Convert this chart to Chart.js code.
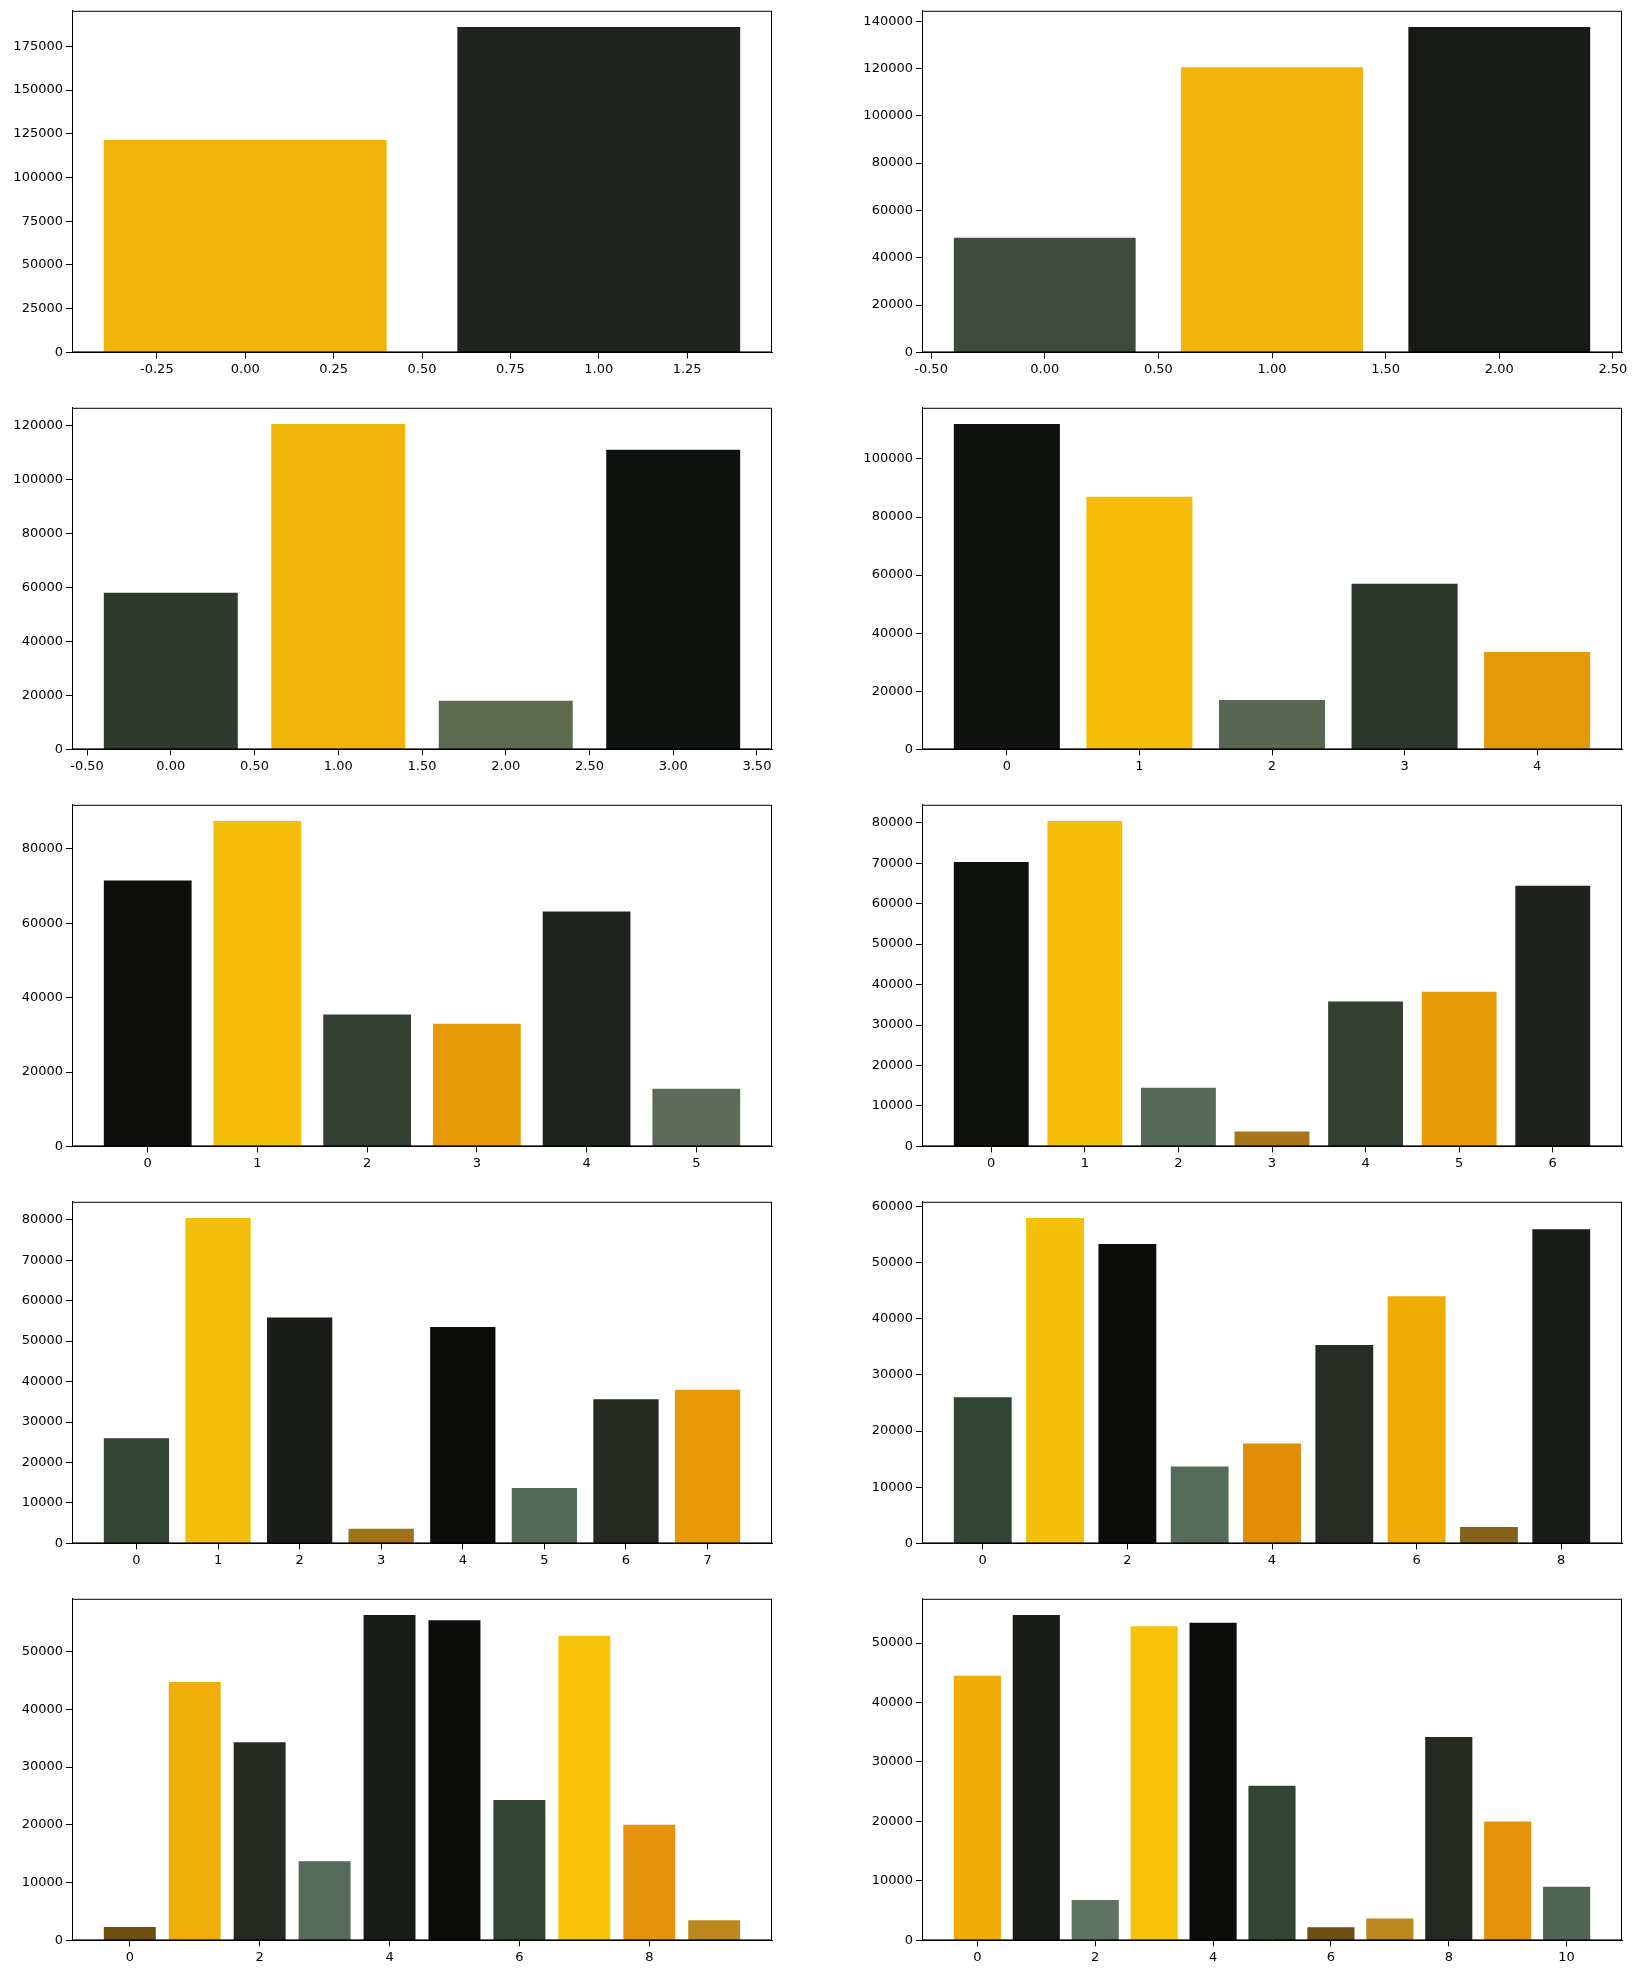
<!DOCTYPE html>
<html>
<head>
<meta charset="utf-8">
<script src="https://cdn.jsdelivr.net/npm/chart.js@4"></script>
<style>
  body { margin: 0; background: #fff; }
  #wrap { position: relative; width: 1634px; height: 1968px; }
  .box { position: absolute; width: 790px; height: 380px; }
</style>
</head>
<body>
<div id="wrap"></div>
<script>
// bar heights per panel
const values1 = [121500, 186000];
const values2 = [48500, 120500, 137500];
const values3 = [58000, 120500, 18000, 111000];
const values4 = [112000, 87000, 17000, 57000, 33500];
const values5 = [71500, 87500, 35500, 33000, 63200, 15500];
const values6 = [70300, 80400, 14500, 3700, 35800, 38200, 64400];
const values7 = [26000, 80400, 55800, 3600, 53500, 13700, 35600, 38000];
const values8 = [26000, 57900, 53300, 13700, 17800, 35300, 44000, 2900, 55900];
const values9 = [2300, 44700, 34300, 13700, 56300, 55400, 24300, 52700, 20000, 3500];
const values10 = [44500, 54700, 6800, 52800, 53400, 26000, 2200, 3700, 34200, 20000, 9000];

const colors1 = ['#f0b30a', '#20241e'];
const colors2 = ['#3e4c3c', '#f0b40a', '#171915'];
const colors3 = ['#2d3a2d', '#f0b40a', '#5c6a50', '#101410'];
const colors4 = ['#111311', '#f5bd0a', '#586852', '#2d362c', '#e4990a'];
const colors5 = ['#0e0f0d', '#f5bc0a', '#324032', '#e59a06', '#20241e', '#5c6a57'];
const colors6 = ['#0e100c', '#f5bd0a', '#56695c', '#a87418', '#324032', '#e89c06', '#20221d'];
const colors7 = ['#324434', '#f4bd0a', '#1a1c18', '#a27219', '#0c0d0b', '#556a5c', '#242a22', '#e89a06'];
const colors8 = ['#324434', '#f4c00a', '#0c0d0b', '#566b5c', '#e08d05', '#262c23', '#efab06', '#84621a', '#1a1c18'];
const colors9 = ['#6f4e12', '#f0ae0a', '#252b23', '#566b5c', '#171c17', '#0c0d0b', '#324434', '#f7c40a', '#e4930a', '#bc891e'];
const colors10 = ['#efab06', '#1a1c18', '#5f7364', '#f7c40a', '#0c0d0b', '#324434', '#6f4e12', '#bc891e', '#252b23', '#e4930a', '#4f6356'];

const xSteps = [0.25, 0.5, 0.5, 1, 1, 1, 1, 2, 2, 2];
const ySteps = [25000, 20000, 20000, 20000, 20000, 10000, 10000, 10000, 10000, 10000];

const panels = [
  [values1, colors1], [values2, colors2], [values3, colors3], [values4, colors4],
  [values5, colors5], [values6, colors6], [values7, colors7], [values8, colors8],
  [values9, colors9], [values10, colors10],
];

Chart.defaults.font.family = 'DejaVu Sans';
Chart.defaults.font.size = 13;
Chart.defaults.color = '#000';

function stepTicks(min, max, step) {
  const t = [];
  for (let v = Math.ceil(min / step - 1e-9) * step; v <= max + 1e-9; v += step) t.push({ value: +v.toFixed(4) });
  return t;
}

function axisOpts(min, max, step, fmt) {
  return {
    type: 'linear', min: min, max: max, offset: false,
    grid: { drawOnChartArea: false, drawTicks: true, tickLength: 6, color: '#000', offset: false },
    border: { display: true, color: '#000', width: 1 },
    ticks: { autoSkip: false, maxRotation: 0, callback: fmt },
    afterBuildTicks: ax => { ax.ticks = stepTicks(min, max, step); },
  };
}

const wrap = document.getElementById('wrap');
panels.forEach(([vals, cols], i) => {
  const col = i % 2, row = Math.floor(i / 2);
  const box = document.createElement('div');
  box.className = 'box';
  box.style.left = (col === 0 ? 0 : 850) + 'px';
  box.style.top = (row * 397) + 'px';
  const cv = document.createElement('canvas');
  box.appendChild(cv);
  wrap.appendChild(box);

  const n = vals.length;
  const span = n - 1 + 0.8;
  const xMin = -0.4 - span * 0.05, xMax = n - 1 + 0.4 + span * 0.05;
  const yMax = Math.max(...vals) * 1.05;
  const xs = xSteps[i];
  const points = vals.map((v, k) => ({ x: k, y: v }));
  const hiddenX = axisOpts(xMin, xMax, 1, v => String(v));
  hiddenX.display = false;
  new Chart(cv, {
    type: 'bar',
    data: { datasets: [{ data: points, backgroundColor: cols, barPercentage: 0.8, categoryPercentage: 1, xAxisID: 'x' }] },
    options: {
      responsive: true, maintainAspectRatio: false, animation: false,
      layout: { padding: { left: 0, right: 18, top: 10, bottom: 0 } },
      plugins: { legend: { display: false }, tooltip: { enabled: false } },
      scales: {
        x: hiddenX,
        x2: Object.assign(axisOpts(xMin, xMax, xs, v => (xs < 1 ? v.toFixed(2) : String(v))), { position: 'bottom' }),
        y: Object.assign(axisOpts(0, yMax, ySteps[i], v => String(v)), {
          afterFit: ax => { ax.width = 72; },
        }),
      },
    },
    plugins: [{
      id: 'frame',
      afterDraw(c) {
        const a = c.chartArea, g = c.ctx;
        g.save(); g.strokeStyle = '#000'; g.lineWidth = 1;
        g.strokeRect(a.left + 0.5, a.top + 0.5, a.width - 1, a.height - 1);
        g.restore();
      },
    }],
  });
});
</script>
</body>
</html>
